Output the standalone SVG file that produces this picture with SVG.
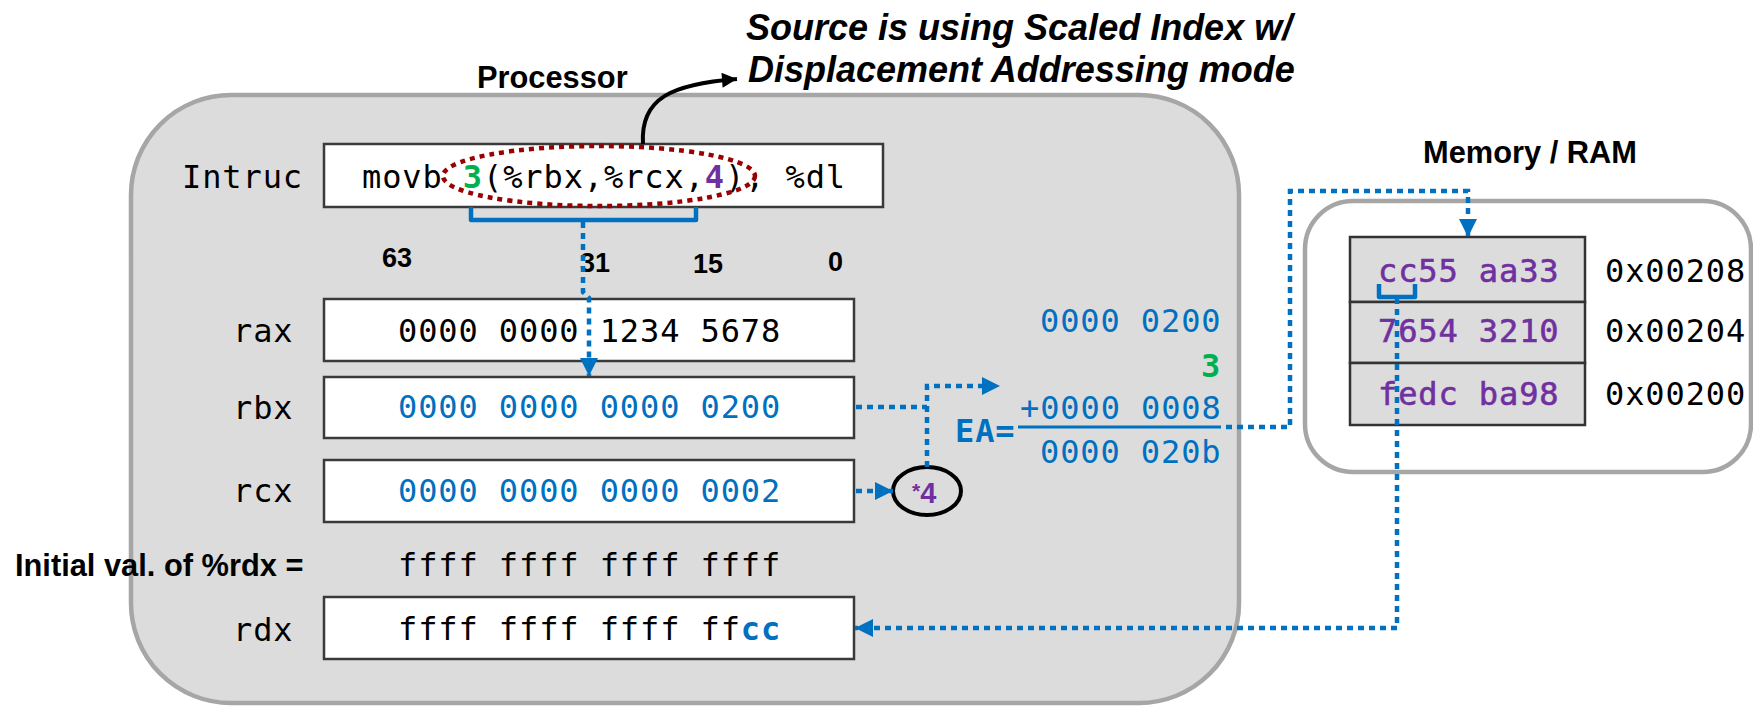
<svg xmlns="http://www.w3.org/2000/svg" width="1753" height="706" viewBox="0 0 1753 706">
  <style>
    .mono { font-family: "DejaVu Sans Mono", "Liberation Mono", monospace; font-size: 32px; letter-spacing: 0.9px; fill: #000; }
    .lbl { font-family: "Liberation Sans", Arial, sans-serif; font-weight: bold; font-size: 30.8px; fill: #000; }
    .bit { font-family: "Liberation Sans", Arial, sans-serif; font-weight: bold; font-size: 27px; fill: #000; }
    .title { font-family: "Liberation Sans", Arial, sans-serif; font-weight: bold; font-style: italic; font-size: 36px; fill: #000; }
    .blue { fill: #0070c0; }
    .green { fill: #00b050; }
    .purple { fill: #7030a0; }
    .heavy { stroke: #7030a0; stroke-width: 0.6px; }
    .reg { fill: #fff; stroke: #3a3a3a; stroke-width: 2.5; }
    .cell { fill: #dcdcdc; stroke: #333; stroke-width: 2.5; }
    .dot { fill: none; stroke: #0070c0; stroke-width: 4.5; stroke-dasharray: 6 5; }
    .brace { fill: none; stroke: #0070c0; stroke-width: 4.5; stroke-linejoin: round; }
  </style>
  <defs>
    <marker id="arrB" viewBox="0 0 10 10" refX="10" refY="5" markerWidth="18" markerHeight="18" markerUnits="userSpaceOnUse" orient="auto">
      <path d="M0,0 L10,5 L0,10 z" fill="#0070c0"/>
    </marker>
    <marker id="arrK" viewBox="0 0 10 10" refX="10" refY="5" markerWidth="16" markerHeight="15" markerUnits="userSpaceOnUse" orient="auto">
      <path d="M0,0 L10,5 L0,10 z" fill="#000"/>
    </marker>
  </defs>

  <!-- headings -->
  <text class="title" x="746" y="40">Source is using Scaled Index w/</text>
  <text class="title" x="748" y="82">Displacement Addressing mode</text>
  <text class="lbl" x="477" y="88">Processor</text>
  <text class="lbl" x="1423" y="163">Memory / RAM</text>

  <!-- processor container -->
  <g id="processor">
    <rect x="131" y="95" width="1108" height="608" rx="100" ry="100" fill="#dcdcdc" stroke="#a6a6a6" stroke-width="4.5"/>
  </g>

  <!-- memory container -->
  <g id="memory">
    <rect x="1305" y="201" width="446" height="271" rx="48" ry="48" fill="#fff" stroke="#a6a6a6" stroke-width="4.5"/>
  </g>

  <!-- instruction register -->
  <g id="instruction">
    <text class="mono" x="182" y="188">Intruc</text>
    <rect class="reg" x="324" y="144" width="559" height="63"/>
    <text class="mono" x="362" y="188">movb <tspan class="green" font-weight="bold">3</tspan>(%rbx,%rcx,<tspan class="purple" font-weight="bold">4</tspan>), %dl</text>
    <ellipse cx="599" cy="176" rx="156" ry="30" fill="none" stroke="#990000" stroke-width="4.5" stroke-dasharray="5 5"/>
  </g>

  <!-- bit positions -->
  <g id="bit-positions">
    <text class="bit" x="382" y="267">63</text>
    <text class="bit" x="580" y="272">31</text>
    <text class="bit" x="693" y="273">15</text>
    <text class="bit" x="828" y="271">0</text>
  </g>

  <g id="rax">
    <text class="mono" x="233" y="342">rax</text>
    <rect class="reg" x="324" y="299" width="530" height="62"/>
    <text class="mono" x="398" y="342">0000 0000 1234 5678</text>
  </g>

  <g id="rbx">
    <text class="mono" x="233" y="419">rbx</text>
    <rect class="reg" x="324" y="377" width="530" height="61"/>
    <text class="mono blue" x="398" y="418">0000 0000 0000 0200</text>
  </g>

  <g id="rcx">
    <text class="mono" x="233" y="502">rcx</text>
    <rect class="reg" x="324" y="460" width="530" height="62"/>
    <text class="mono blue" x="398" y="502">0000 0000 0000 0002</text>
  </g>

  <g id="rdx-initial">
    <text class="lbl" x="15" y="576">Initial val. of %rdx =</text>
    <text class="mono" x="398" y="576">ffff ffff ffff ffff</text>
  </g>

  <g id="rdx">
    <text class="mono" x="233" y="641">rdx</text>
    <rect class="reg" x="324" y="597" width="530" height="62"/>
    <text class="mono" x="398" y="640">ffff ffff ffff ff<tspan class="blue" font-weight="bold">cc</tspan></text>
  </g>

  <g id="scale">
    <ellipse cx="927" cy="491" rx="34" ry="24" fill="none" stroke="#000" stroke-width="4"/>
    <text x="912" y="503" font-family="'Liberation Sans', Arial, sans-serif" font-weight="bold" class="purple"><tspan font-size="21" dy="-5">*</tspan><tspan font-size="29" dy="5">4</tspan></text>
  </g>

  <g id="effective-address">
    <text class="mono blue" x="1040" y="332">0000 0200</text>
    <text class="mono green" x="1201" y="377" font-weight="bold">3</text>
    <text class="mono blue" x="1020" y="419">+0000 0008</text>
    <line x1="1018" y1="427" x2="1221" y2="427" stroke="#0070c0" stroke-width="3"/>
    <text class="mono blue" x="955" y="442" font-weight="bold" letter-spacing="0">EA=</text>
    <text class="mono blue" x="1040" y="463">0000 020b</text>
  </g>

  <g id="memory-cells">
    <rect class="cell" x="1350" y="237" width="235" height="65"/>
    <rect class="cell" x="1350" y="302" width="235" height="61"/>
    <rect class="cell" x="1350" y="363" width="235" height="62"/>
    <text class="mono purple heavy" x="1378" y="282">cc55 aa33</text>
    <text class="mono purple heavy" x="1378" y="342">7654 3210</text>
    <text class="mono purple heavy" x="1378" y="405">fedc ba98</text>
    <text class="mono" x="1605" y="282">0x00208</text>
    <text class="mono" x="1605" y="342">0x00204</text>
    <text class="mono" x="1605" y="405">0x00200</text>
  </g>

  <!-- connectors -->
  <g id="connectors">
    <path d="M643,144 C640,98 672,84 737,79" fill="none" stroke="#000" stroke-width="4" marker-end="url(#arrK)"/>
    <path class="brace" d="M471,207 V220 H696 V207"/>
    <path class="dot" d="M583,222 V292 L589,298 V376" marker-end="url(#arrB)"/>
    <path class="dot" d="M856,407 H927"/>
    <path class="dot" d="M927,467 V386 H1000" marker-end="url(#arrB)"/>
    <path class="dot" d="M856,491 H893" marker-end="url(#arrB)"/>
    <path class="dot" d="M1226,427 H1290 V191 H1468 V237" marker-end="url(#arrB)"/>
    <path class="brace" d="M1379,284 V297 H1415 V284"/>
    <path class="dot" d="M1397,298 V628 H855" marker-end="url(#arrB)"/>
  </g>
</svg>
